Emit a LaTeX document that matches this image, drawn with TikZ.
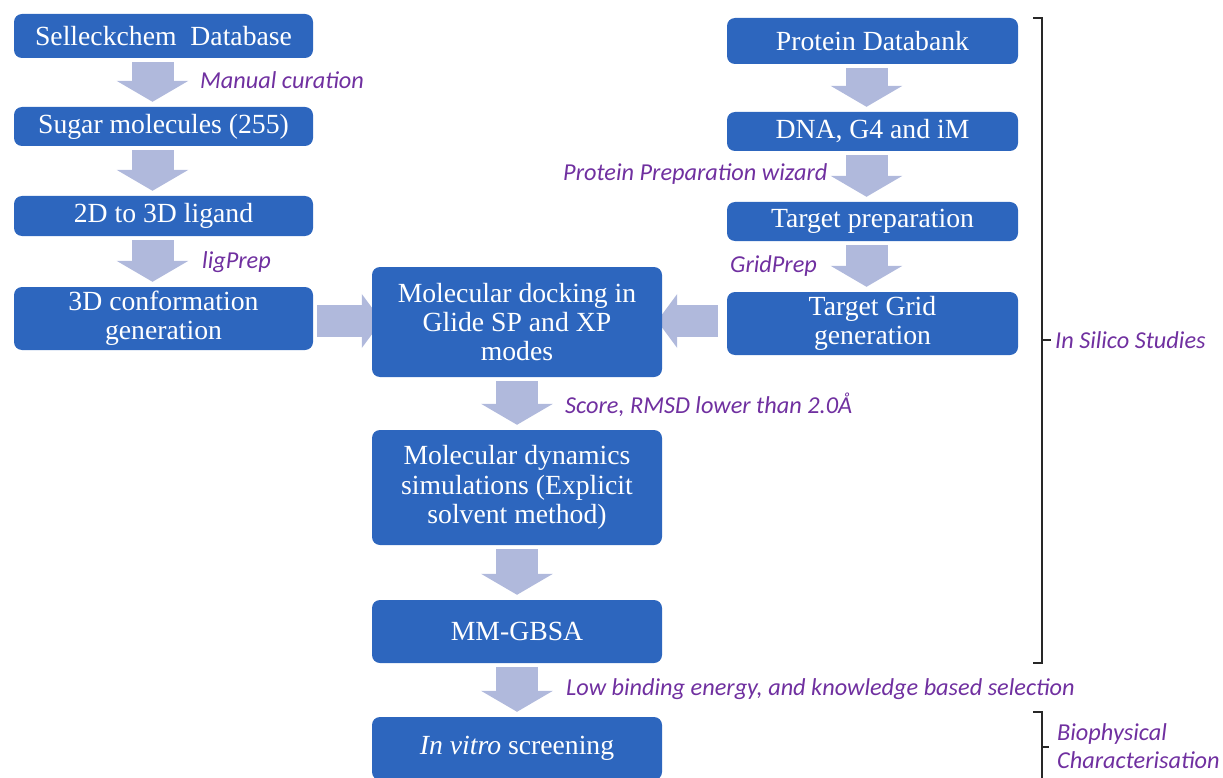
\documentclass[tikz,border=0pt]{standalone}
\usepackage{fontspec}
\setmainfont{Liberation Serif}
\newfontfamily\labfont{Carlito}
\usetikzlibrary{arrows.meta,calc}
\pgfdeclarelayer{background}
\pgfsetlayers{background,main}
\definecolor{boxblue}{RGB}{45,102,190}
\definecolor{arrowc}{RGB}{176,185,220}
\definecolor{labpurple}{RGB}{112,48,160}
\definecolor{bracec}{RGB}{40,40,40}
\tikzset{
  box/.style={rectangle, rounded corners=8pt, fill=boxblue, text=white, align=center, inner sep=0pt,
    font=\fontsize{27.7}{29.3}\selectfont},
  leftbox/.style={box, minimum width=299pt},
  rightbox/.style={box, minimum width=291pt},
  midbox/.style={box, minimum width=290pt},
  lab/.style={anchor=west, inner sep=0pt, text=labpurple, font=\labfont\itshape\fontsize{24.3}{28}\selectfont, align=left},
  blockdown/.style={draw=arrowc, line width=42pt, -{Triangle[width=71pt,length=21pt]}, shorten <=4pt, shorten >=5pt},
  blockside/.style={draw=arrowc, line width=32pt, -{Triangle[width=53pt,length=20pt]}},
  bracket/.style={draw=bracec, line width=1.3pt}
}
\begin{document}
\begin{tikzpicture}[x=1pt,y=-1pt]
\useasboundingbox (0,0) rectangle (1223,778);
% left column
\node[leftbox, minimum height=44pt] (sel) at (163.5,36) {Selleckchem\hspace{0.25em} Database};
\node[leftbox, minimum height=39pt] (sug) at (163.5,126.5) {Sugar molecules (255)};
\node[leftbox, minimum height=40pt] (lig) at (163.5,216) {2D to 3D ligand};
\node[leftbox, minimum height=63pt] (conf) at (163.5,318.5) {3D conformation\\generation};
% right column
\node[rightbox, minimum height=46pt] (pdb) at (872.5,41) {Protein Databank};
\node[rightbox, minimum height=39pt] (dna) at (872.5,131.5) {DNA, G4 and iM};
\node[rightbox, minimum height=39pt] (tprep) at (872.5,221.5) {Target preparation};
\node[rightbox, minimum height=63pt] (grid) at (872.5,323.5) {Target Grid\\generation};
% middle column
\node[midbox, minimum height=110pt] (dock) at (517,322) {Molecular docking in\\Glide SP and XP\\modes};
\node[midbox, minimum height=115pt] (dyn) at (517,487.5) {Molecular dynamics\\simulations (Explicit\\solvent method)};
\node[midbox, minimum height=63pt] (mm) at (517,631.5) {MM-GBSA};
\node[midbox, minimum height=63pt] (vitro) at (517,748.5) {\textit{In vitro} screening};
% arrows
\begin{pgfonlayer}{background}
\draw[blockdown] ($(sel.south)+(-11,0)$) -- ($(sug.north)+(-11,0)$);
\draw[blockdown] ($(sug.south)+(-11,0)$) -- ($(lig.north)+(-11,0)$);
\draw[blockdown] ($(lig.south)+(-11,0)$) -- ($(conf.north)+(-11,0)$);
\draw[blockdown] ($(pdb.south)+(-6,0)$) -- ($(dna.north)+(-6,0)$);
\draw[blockdown] ($(dna.south)+(-6,0)$) -- ($(tprep.north)+(-6,0)$);
\draw[blockdown] ($(tprep.south)+(-6,0)$) -- ($(grid.north)+(-6,0)$);
\draw[blockdown] (dock.south) -- (dyn.north);
\draw[blockdown] (dyn.south) -- (mm.north);
\draw[blockdown] (mm.south) -- (vitro.north);
\draw[blockside, shorten <=4pt, shorten >=-10pt] ($(conf.east |- dock.west)+(0,-1)$) -- ($(dock.west)+(0,-1)$);
\draw[blockside, shorten <=9pt, shorten >=-5pt] ($(grid.west |- dock.east)+(0,-1)$) -- ($(dock.east)+(0,-1)$);
\end{pgfonlayer}
% labels
\node[lab] (l1) at (200,80) {Manual curation};
\node[lab] (l2) at (202,262) {ligPrep};
\node[lab] (l3) at (563,174) {Protein Preparation wizard};
\node[lab] (l4) at (730,266) {GridPrep};
\node[lab] (l5) at (565,405) {Score, RMSD lower than 2.0Å};
\node[lab] (l6) at (566,689) {Low binding energy, and knowledge based selection};
\node[lab] (l7) at (1055,340) {In Silico Studies};
\node[lab] (l8) at (1057,746) {Biophysical\\Characterisation};
% brackets
\coordinate (b1t) at (1042,18);
\coordinate (b1b) at (1042,663);
\draw[bracket] ($(b1t)+(-9,0)$) -- (b1t) -- (b1b) -- ($(b1b)+(-9,0)$);
\draw[bracket] (1042,340) -- ($(l7.west)+(-4,0)$);
\coordinate (b2t) at (1042,712);
\coordinate (b2b) at (1042,800);
\draw[bracket] ($(b2t)+(-9,0)$) -- (b2t) -- (b2b);
\draw[bracket] (1042,747) -- (1049,747);
\end{tikzpicture}
\end{document}
